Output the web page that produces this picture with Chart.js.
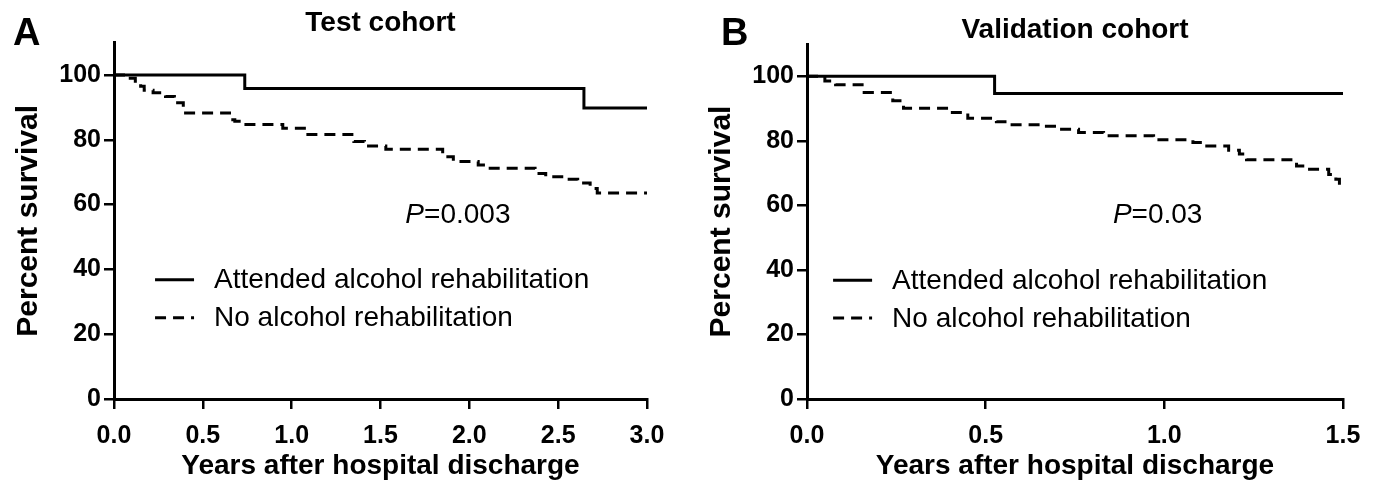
<!DOCTYPE html>
<html>
<head>
<meta charset="utf-8">
<script src="https://cdn.jsdelivr.net/npm/chart.js@4.4.1/dist/chart.umd.min.js"></script>
<style>
  html, body { margin: 0; padding: 0; background: #fff; }
  #wrap { position: relative; width: 1373px; height: 487px; }
  #boxA { position: absolute; left: 0; top: 0; width: 690px; height: 487px; }
  #boxB { position: absolute; left: 690px; top: 0; width: 683px; height: 487px; }
</style>
</head>
<body>
<div id="wrap">
  <div id="boxA"><canvas id="chartA" width="690" height="487"></canvas></div>
  <div id="boxB"><canvas id="chartB" width="683" height="487"></canvas></div>
</div>
<script>
// series names
var rehabLabel = "Attended alcohol rehabilitation";
var noRehabLabel = "No alcohol rehabilitation";

// A - test cohort (years after discharge, percent survival)
var testRehabYears = [0, 0.736, 2.645, 3.0];
var testRehabSurv = [100, 95.8, 89.8, 89.8];
var testNoRehabYears = [0, 0.08, 0.12, 0.15, 0.17, 0.22, 0.29, 0.34, 0.39, 0.65, 0.68, 0.72, 0.95, 1.08, 1.35, 1.41, 1.53, 1.85, 1.91, 2.05, 2.10, 2.37, 2.43, 2.55, 2.61, 2.68, 2.72, 3.0];
var testNoRehabSurv = [100, 99.0, 98.1, 96.5, 95.3, 94.5, 93.4, 91.4, 88.3, 86.2, 85.7, 84.7, 83.6, 81.6, 79.5, 78.1, 77.1, 74.8, 73.3, 72.2, 71.2, 69.6, 68.6, 67.8, 66.7, 65.0, 63.6, 63.6];

// B - validation cohort
var valRehabYears = [0, 0.525, 1.5];
var valRehabSurv = [100, 94.7, 94.7];
var valNoRehabYears = [0, 0.05, 0.08, 0.16, 0.24, 0.27, 0.40, 0.45, 0.53, 0.56, 0.67, 0.70, 0.76, 0.83, 0.97, 1.08, 1.11, 1.18, 1.21, 1.23, 1.37, 1.40, 1.46, 1.48, 1.49, 1.5];
var valNoRehabSurv = [100, 98.5, 97.4, 95.0, 92.4, 90.1, 88.8, 87.0, 85.9, 85.0, 84.5, 83.6, 82.6, 81.6, 80.3, 79.5, 78.4, 77.1, 75.9, 74.1, 72.2, 71.2, 69.6, 68.1, 65.5, 65.5];

var fontFam = '"Liberation Sans", Arial, Helvetica, sans-serif';
Chart.defaults.font.family = fontFam;
Chart.defaults.color = "#000";

function toPoints(xs, ys) {
  var pts = [];
  for (var i = 0; i < xs.length; i++) pts.push({ x: xs[i], y: ys[i] });
  return pts;
}

// draws panel letter, in-plot legend and the P value
var panelNotes = {
  id: "panelNotes",
  afterDraw: function (chart, args, opts) {
    var ctx = chart.ctx;
    var xs = chart.scales.x, ys = chart.scales.y;
    ctx.save();
    ctx.fillStyle = "#000";
    ctx.textAlign = "left";

    ctx.font = "bold 38px " + fontFam;
    ctx.textBaseline = "alphabetic";
    ctx.fillText(opts.letter, opts.letterX, 45);

    // legend built from the datasets
    var lx = xs.getPixelForValue(opts.legendX);
    chart.data.datasets.forEach(function (ds, i) {
      var y = ys.getPixelForValue(opts.legendY[i]);
      ctx.strokeStyle = ds.borderColor;
      ctx.lineWidth = ds.borderWidth;
      ctx.setLineDash(ds.borderDash || []);
      ctx.beginPath();
      ctx.moveTo(lx, y);
      ctx.lineTo(lx + 39, y);
      ctx.stroke();
      ctx.setLineDash([]);
      ctx.font = "28px " + fontFam;
      ctx.textBaseline = "middle";
      ctx.fillText(ds.label, lx + 59, y + 1);
    });

    // P value
    var px = xs.getPixelForValue(opts.pX);
    var py = ys.getPixelForValue(opts.pY);
    ctx.textBaseline = "alphabetic";
    ctx.font = "italic 28px " + fontFam;
    ctx.fillText("P", px, py);
    var w = ctx.measureText("P").width;
    ctx.font = "28px " + fontFam;
    ctx.fillText(opts.pText, px + w, py);
    ctx.restore();
  }
};

function makeChart(id, cfg) {
  var tickFont = { size: 25, weight: "bold" };
  return new Chart(document.getElementById(id), {
    type: "line",
    data: {
      datasets: [
        {
          label: rehabLabel,
          data: toPoints(cfg.rehabX, cfg.rehabY),
          borderColor: "#000",
          borderWidth: 3,
          stepped: true,
          pointRadius: 0,
          fill: false,
          clip: false,
          borderJoinStyle: "miter"
        },
        {
          label: noRehabLabel,
          data: toPoints(cfg.noRehabX, cfg.noRehabY),
          borderColor: "#000",
          borderWidth: 3,
          borderDash: [11, 7],
          stepped: true,
          pointRadius: 0,
          fill: false,
          clip: false,
          borderJoinStyle: "miter"
        }
      ]
    },
    options: {
      responsive: false,
      animation: false,
      layout: { padding: { left: 0, right: cfg.padRight, top: 0, bottom: 0 } },
      plugins: {
        legend: { display: false },
        tooltip: { enabled: false },
        title: {
          display: true,
          text: cfg.title,
          fullSize: false,
          color: "#000",
          font: { size: 28, weight: "bold", lineHeight: cfg.titleLH },
          padding: cfg.titlePad
        },
        panelNotes: cfg.notes
      },
      scales: {
        x: {
          type: "linear",
          min: 0,
          max: cfg.xMax,
          border: { display: true, color: "#000", width: 3 },
          grid: { display: true, drawOnChartArea: false, drawTicks: true, tickLength: 10, color: "#000", lineWidth: 2.5 },
          ticks: {
            stepSize: 0.5,
            padding: 12,
            color: "#000",
            font: tickFont,
            maxRotation: 0,
            callback: function (v) { return Number(v).toFixed(1); }
          },
          title: {
            display: true,
            text: "Years after hospital discharge",
            color: "#000",
            font: { size: 28, weight: "bold" },
            padding: { top: 0, bottom: 4 }
          },
          afterFit: function (s) { s.height = 88; }
        },
        y: {
          min: 0,
          max: 110,
          border: { display: true, color: "#000", width: 3 },
          grid: { display: true, drawOnChartArea: false, drawTicks: true, tickLength: 10, color: "#000", lineWidth: 2.5 },
          ticks: {
            stepSize: 20,
            includeBounds: false,
            padding: 3,
            color: "#000",
            font: tickFont
          },
          title: {
            display: true,
            text: "Percent survival",
            color: "#000",
            font: { size: 30, weight: "bold" },
            padding: { top: cfg.yTitlePad, bottom: 0 }
          },
          afterFit: function (s) { s.width = cfg.yWidth; }
        }
      }
    },
    plugins: [panelNotes]
  });
}

var chartA = makeChart("chartA", {
  rehabX: testRehabYears, rehabY: testRehabSurv,
  noRehabX: testNoRehabYears, noRehabY: testNoRehabSurv,
  xMax: 3.0,
  title: "Test cohort",
  titleLH: 1.2,
  titlePad: { top: 6, bottom: 3 },
  padRight: 43,
  yWidth: 114,
  yTitlePad: 11,
  notes: { letter: "A", letterX: 13, legendX: 0.231, legendY: [36.8, 25.1], pX: 1.64, pY: 54.4, pText: "=0.003" }
});

var chartB = makeChart("chartB", {
  rehabX: valRehabYears, rehabY: valRehabSurv,
  noRehabX: valNoRehabYears, noRehabY: valNoRehabSurv,
  xMax: 1.5,
  title: "Validation cohort",
  titleLH: 1.0,
  titlePad: { top: 16, bottom: 0 },
  padRight: 30,
  yWidth: 117,
  yTitlePad: 14,
  notes: { letter: "B", letterX: 31, legendX: 0.073, legendY: [36.8, 25.1], pX: 0.856, pY: 54.4, pText: "=0.03" }
});
</script>
</body>
</html>
